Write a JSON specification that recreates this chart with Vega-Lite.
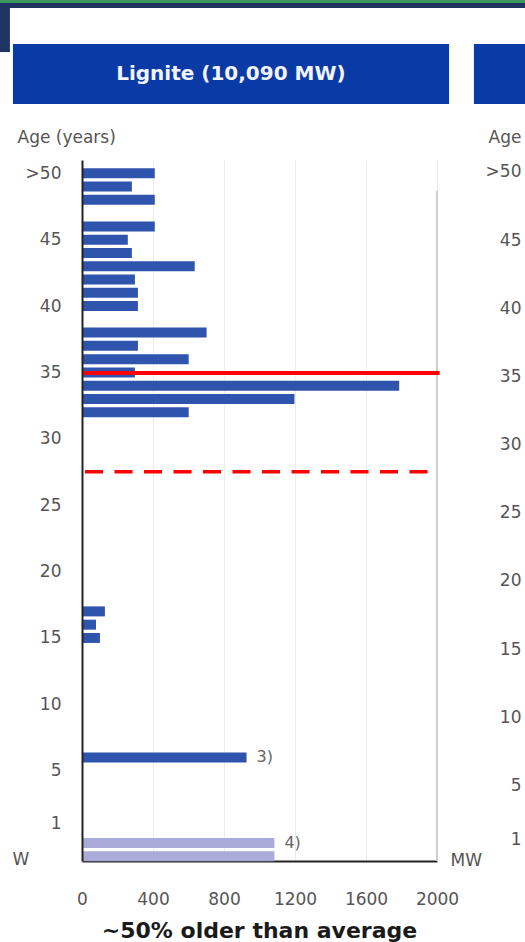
{
  "$schema": "https://vega.github.io/schema/vega-lite/v6.json",
  "width": 355,
  "height": 701,
  "autosize": {"type": "none"},
  "padding": {"left": 82, "top": 160, "right": 88, "bottom": 81},
  "background": "white",
  "config": {"font": "DejaVu Sans", "view": {"stroke": null}},
  "title": {"text": "~50% older than average", "orient": "bottom", "anchor": "middle", "fontSize": 22, "fontWeight": "bold", "color": "#1a1a1a", "offset": 14},
  "datasets": {
    "capacity": [
      {"age": 50, "mw": 410, "kind": "operating"},
      {"age": 49, "mw": 281, "kind": "operating"},
      {"age": 48, "mw": 410, "kind": "operating"},
      {"age": 46, "mw": 410, "kind": "operating"},
      {"age": 45, "mw": 258, "kind": "operating"},
      {"age": 44, "mw": 281, "kind": "operating"},
      {"age": 43, "mw": 635, "kind": "operating"},
      {"age": 42, "mw": 298, "kind": "operating"},
      {"age": 41, "mw": 315, "kind": "operating"},
      {"age": 40, "mw": 315, "kind": "operating"},
      {"age": 38, "mw": 702, "kind": "operating"},
      {"age": 37, "mw": 315, "kind": "operating"},
      {"age": 36, "mw": 601, "kind": "operating"},
      {"age": 35, "mw": 298, "kind": "operating"},
      {"age": 34, "mw": 1787, "kind": "operating"},
      {"age": 33, "mw": 1197, "kind": "operating"},
      {"age": 32, "mw": 601, "kind": "operating"},
      {"age": 17, "mw": 129, "kind": "operating"},
      {"age": 16, "mw": 79, "kind": "operating"},
      {"age": 15, "mw": 101, "kind": "operating"},
      {"age": 6, "mw": 927, "kind": "operating", "note": "3)"},
      {"age": -0.45, "mw": 1084, "kind": "construction", "note": "4)"},
      {"age": -1.45, "mw": 1084, "kind": "construction"}
    ]
  },
  "layer": [
    {
      "layer": [
        {
          "data": {"values": [{}]},
          "mark": {"type": "rect", "color": "#3b9a5c"},
          "encoding": {"x": {"datum": -470}, "x2": {"datum": 2650}, "y": {"datum": 63.1}, "y2": {"datum": 62.83}}
        },
        {
          "data": {"values": [{}]},
          "mark": {"type": "rect", "color": "#1e3461"},
          "encoding": {"x": {"datum": -470}, "x2": {"datum": 2650}, "y": {"datum": 62.83}, "y2": {"datum": 62.45}}
        },
        {
          "data": {"values": [{}]},
          "mark": {"type": "rect", "color": "#1e3461"},
          "encoding": {"x": {"datum": -470}, "x2": {"datum": -406}, "y": {"datum": 62.83}, "y2": {"datum": 59.13}}
        },
        {
          "data": {"values": [{}]},
          "mark": {"type": "rect", "color": "#0a3aa6"},
          "encoding": {"x": {"datum": -389}, "x2": {"datum": 2068}, "y": {"datum": 59.74}, "y2": {"datum": 55.22}}
        },
        {
          "data": {"values": [{}]},
          "mark": {"type": "rect", "color": "#0a3aa6"},
          "encoding": {"x": {"datum": 2208}, "x2": {"datum": 2650}, "y": {"datum": 59.74}, "y2": {"datum": 55.22}}
        },
        {
          "data": {"values": [{}]},
          "mark": {"type": "text", "text": "Lignite (10,090 MW)", "fontSize": 20, "fontWeight": "bold", "color": "#f2f5ff", "align": "center", "baseline": "middle"},
          "encoding": {"x": {"datum": 839}, "y": {"datum": 57.5}}
        },
        {
          "data": {"values": [{}]},
          "mark": {"type": "rule", "color": "#cfcfcf", "strokeWidth": 2},
          "encoding": {"x": {"datum": 2000}, "y": {"datum": 48.7}, "y2": {"datum": -1.8}}
        },
        {
          "data": {"name": "capacity"},
          "mark": {"type": "bar", "orient": "horizontal", "height": 10},
          "encoding": {
            "y": {
              "field": "age", "type": "quantitative",
              "scale": {"domain": [-1.8, 51], "nice": false, "zero": false, "padding": 0},
              "axis": {
                "values": [50, 45, 40, 35, 30, 25, 20, 15, 10, 5, 1],
                "labelExpr": "datum.value == 50 ? '>50' : datum.label",
                "title": "Age (years)", "titleAngle": 0, "titleAlign": "left", "titleBaseline": "middle",
                "titleX": -65, "titleY": -23, "titleFontWeight": "normal", "titleFontSize": 17, "titleColor": "#555555",
                "labelFontSize": 17, "labelColor": "#555555", "labelPadding": 21, "ticks": false,
                "domainColor": "#222222", "domainWidth": 2, "grid": false, "zindex": 1
              }
            },
            "x": {
              "field": "mw", "type": "quantitative", "stack": null,
              "scale": {"domain": [0, 2000], "nice": false, "padding": 0},
              "axis": {
                "values": [0, 400, 800, 1200, 1600, 2000], "format": "d",
                "title": "MW", "titleX": 368, "titleY": -1, "titleAlign": "left", "titleBaseline": "middle",
                "titleFontWeight": "normal", "titleFontSize": 17, "titleColor": "#555555",
                "labelFontSize": 17, "labelColor": "#555555", "labelPadding": 30, "ticks": false, "labelFlush": false,
                "domainColor": "#222222", "domainWidth": 2, "grid": true, "gridColor": "#ececec", "zindex": 0
              }
            },
            "color": {
              "field": "kind", "type": "nominal",
              "scale": {"domain": ["operating", "construction"], "range": ["#2f54ad", "#a9acd9"]},
              "legend": null
            }
          }
        },
        {
          "data": {"values": [{"line": "lignite average", "age": 34.95}]},
          "mark": {"type": "rule", "color": "#ff0000", "strokeWidth": 4},
          "encoding": {"y": {"field": "age", "type": "quantitative"}, "x": {"datum": 0}, "x2": {"datum": 2015}}
        },
        {
          "data": {"values": [{"line": "overall average", "age": 27.52}]},
          "mark": {"type": "rule", "color": "#ff0000", "strokeWidth": 3.5, "strokeDash": [18, 11.5]},
          "encoding": {"y": {"field": "age", "type": "quantitative"}, "x": {"datum": 17}, "x2": {"datum": 1975}}
        },
        {
          "data": {"name": "capacity"},
          "transform": [{"filter": "datum.note != null"}],
          "mark": {"type": "text", "align": "left", "baseline": "middle", "dx": 10, "fontSize": 16, "color": "#666666"},
          "encoding": {"y": {"field": "age", "type": "quantitative"}, "x": {"field": "mw", "type": "quantitative"}, "text": {"field": "note"}}
        },
        {
          "data": {"values": [{}]},
          "mark": {"type": "text", "text": "W", "fontSize": 17, "color": "#555555", "align": "center", "baseline": "middle"},
          "encoding": {"x": {"datum": -344}, "y": {"datum": -1.72}}
        }
      ]
    },
    {
      "data": {"name": "capacity"},
      "mark": {"type": "text", "text": ""},
      "encoding": {
        "y": {
          "field": "age", "type": "quantitative",
          "scale": {"domain": [-0.55, 50.88], "nice": false, "zero": false, "padding": 0},
          "axis": {
            "orient": "right",
            "values": [50, 45, 40, 35, 30, 25, 20, 15, 10, 5, 1],
            "labelExpr": "datum.value == 50 ? '>50' : datum.label",
            "labelAlign": "right", "labelPadding": 84, "ticks": false, "domain": false, "grid": false,
            "labelFontSize": 17, "labelColor": "#555555",
            "title": "Age", "titleAngle": 0, "titleAlign": "right", "titleBaseline": "middle",
            "titleX": 84, "titleY": -23, "titleFontWeight": "normal", "titleFontSize": 17, "titleColor": "#555555"
          }
        }
      }
    }
  ],
  "resolve": {"scale": {"y": "independent"}}
}
